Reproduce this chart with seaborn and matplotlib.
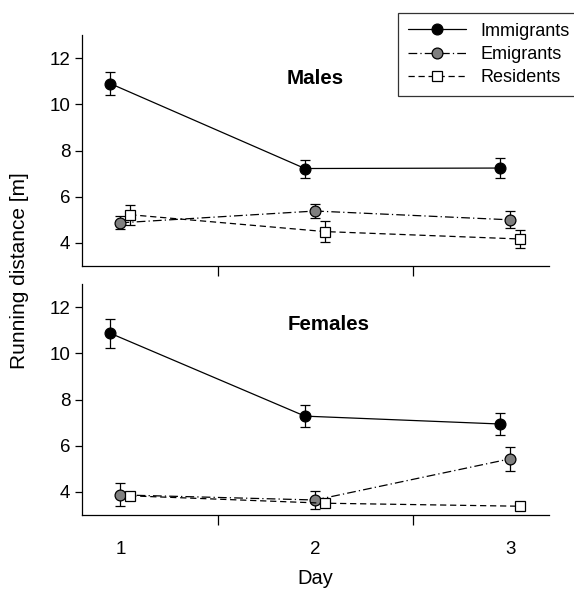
import numpy as np
import pandas as pd
import matplotlib
matplotlib.use("Agg")
import matplotlib.pyplot as plt
import seaborn as sns
from matplotlib.lines import Line2D

days = [1, 2, 3]
groups = ["Immigrants", "Emigrants", "Residents"]

males_imm = [10.90, 7.22, 7.24]
males_imm_se = [0.50, 0.39, 0.43]
males_emi = [4.87, 5.38, 5.00]
males_emi_se = [0.28, 0.32, 0.37]
males_res = [5.22, 4.49, 4.17]
males_res_se = [0.44, 0.45, 0.37]

fem_imm = [10.87, 7.28, 6.94]
fem_imm_se = [0.62, 0.47, 0.47]
fem_emi = [3.87, 3.65, 5.43]
fem_emi_se = [0.50, 0.37, 0.52]
fem_res = [3.83, 3.51, 3.38]
fem_res_se = [0.10, 0.10, 0.08]

sns.set_style("ticks")
plt.rcParams["font.family"] = ["Liberation Sans", "DejaVu Sans"]
plt.rcParams["text.color"] = "black"
plt.rcParams["axes.labelcolor"] = "black"

styles = {
    "Immigrants": dict(ls="-", marker="o", mfc="black", ms=7.8, dodge=-0.053),
    "Emigrants": dict(ls=(0, (7, 2.5, 1, 2.5)), marker="o", mfc="#7f7f7f", ms=7.8, dodge=0.0),
    "Residents": dict(ls=(0, (5, 3)), marker="s", mfc="white", ms=6.5, dodge=0.05),
}

def make_df(imm, imm_se, emi, emi_se, res, res_se):
    rows = []
    for g, v, s in zip(groups, [imm, emi, res], [imm_se, emi_se, res_se]):
        for d, vv, ss in zip(days, v, s):
            rows.append(dict(day=d, group=g, value=vv, se=ss))
    return pd.DataFrame(rows)

fig = plt.figure(figsize=(5.74, 5.89), dpi=100)
W, H = 574, 589
L, R = 81.5, 549
ax1 = fig.add_axes([L / W, 1 - 266 / H, (R - L) / W, 231 / H])
ax2 = fig.add_axes([L / W, 1 - 515 / H, (R - L) / W, 231 / H])

panels = [
    (ax1, make_df(males_imm, males_imm_se, males_emi, males_emi_se, males_res, males_res_se), "Males", (2.0, 11.13)),
    (ax2, make_df(fem_imm, fem_imm_se, fem_emi, fem_emi_se, fem_res, fem_res_se), "Females", (2.07, 11.23)),
]

for ax, df, title, tpos in panels:
    for g in groups:
        st = styles[g]
        sub = df[df.group == g].copy()
        sub["x"] = sub["day"] + st["dodge"]
        ax.errorbar(sub["x"], sub["value"], yerr=sub["se"], fmt="none",
                    ecolor="black", elinewidth=0.9, capsize=3.6, capthick=0.9, zorder=2)
        sns.lineplot(data=sub, x="x", y="value", ax=ax, color="black",
                     linestyle=st["ls"], linewidth=0.9, marker=st["marker"],
                     markersize=st["ms"], markerfacecolor=st["mfc"],
                     markeredgecolor="black", markeredgewidth=0.9, zorder=3,
                     errorbar=None, legend=False)
    ax.set_xlim(0.8, 3.2)
    ax.set_ylim(3, 13)
    ax.set_yticks([4, 6, 8, 10, 12])
    ax.set_xticks([1.5, 2.5])
    ax.set_xticks([1, 2, 3], minor=True)
    ax.tick_params(axis="y", which="major", direction="out", length=5, width=0.9,
                   labelsize=13.5, colors="black", pad=3)
    ax.tick_params(axis="x", which="major", direction="out", length=7, width=0.9,
                   labelbottom=False, colors="black")
    ax.tick_params(axis="x", which="minor", length=0, labelsize=13.5, pad=19, colors="black")
    ax.set_xlabel("")
    ax.set_ylabel("")
    for sp in ["left", "bottom"]:
        ax.spines[sp].set_linewidth(0.9)
        ax.spines[sp].set_color("black")
    sns.despine(ax=ax)
    ax.text(tpos[0], tpos[1], title, fontsize=14.8, fontweight="bold", ha="center", va="center")

ax1.tick_params(axis="x", which="minor", labelbottom=False)
ax2.set_xticklabels(["1", "2", "3"], minor=True)
fig.text((L + R) / 2 / W, 1 - 578 / H, "Day", fontsize=14.5, ha="center", va="center")
fig.text(20 / W, 1 - 271 / H, "Running distance [m]", rotation=90, fontsize=15, ha="center", va="center")

handles = []
for g in groups:
    st = styles[g]
    handles.append(Line2D([], [], color="black", linestyle=st["ls"], linewidth=0.9,
                          marker=st["marker"], markersize=st["ms"], markerfacecolor=st["mfc"],
                          markeredgecolor="black", markeredgewidth=0.9))
leg = fig.legend(handles, groups, loc="upper left", bbox_to_anchor=(398 / W, 1 - 12.7 / H),
                 frameon=True, fancybox=False, edgecolor="black", fontsize=13,
                 handlelength=3.2, borderpad=0.55, labelspacing=0.35, handletextpad=0.8,
                 borderaxespad=0)
leg.get_frame().set_linewidth(0.9)

fig.savefig("out.png", dpi=100)
